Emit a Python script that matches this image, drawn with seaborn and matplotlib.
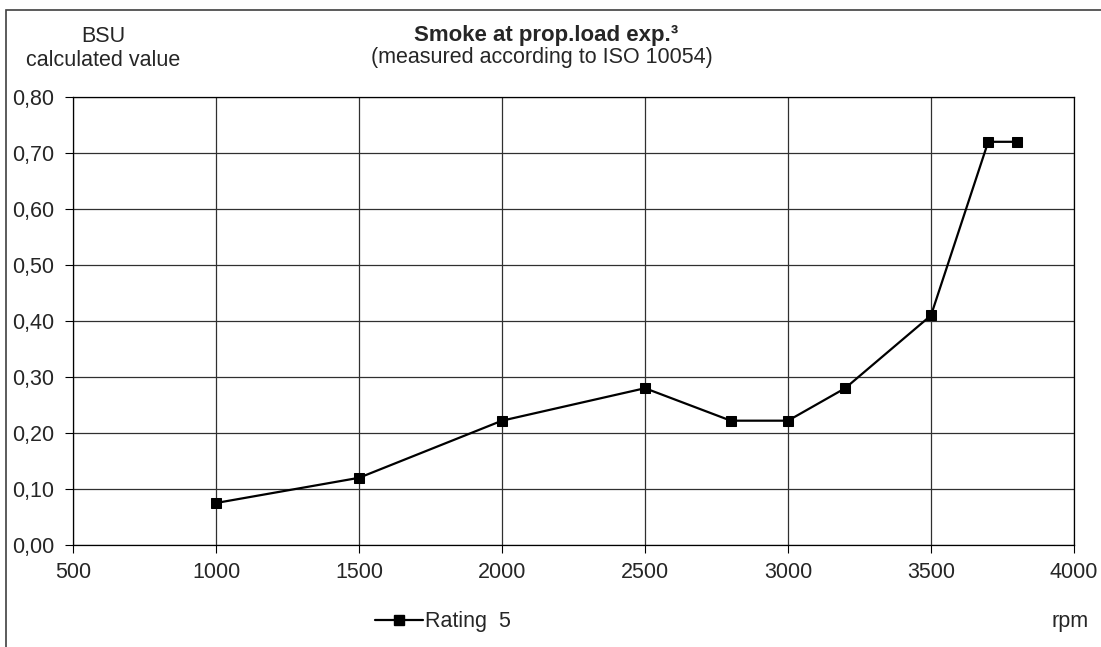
import pandas as pd
import seaborn as sns
import matplotlib.pyplot as plt
from matplotlib.patches import Rectangle

# data
rpm = [1000, 1500, 2000, 2500, 2800, 3000, 3200, 3500, 3700, 3800]
smoke = [0.075, 0.12, 0.222, 0.28, 0.222, 0.222, 0.28, 0.41, 0.72, 0.72]
series_name = "Rating  5"
x_ticks = [500, 1000, 1500, 2000, 2500, 3000, 3500, 4000]
y_ticks = [0.0, 0.1, 0.2, 0.3, 0.4, 0.5, 0.6, 0.7, 0.8]

sns.set_style("white")
plt.rcParams['font.family'] = ['Liberation Sans', 'DejaVu Sans']

df = pd.DataFrame({"rpm": rpm, "BSU": smoke, "Series": series_name})

W, H = 1101, 647
fig = plt.figure(figsize=(W / 100, H / 100), dpi=100)
ax = fig.add_axes([73 / W, 1 - 545 / H, (1074 - 73) / W, (545 - 97) / H])

sns.lineplot(
    data=df, x="rpm", y="BSU", hue="Series", palette=["black"],
    marker="s", markersize=7, markeredgecolor="black", linewidth=1.6,
    ax=ax, legend=False,
)

ax.set_xlim(500, 4000)
ax.set_ylim(0, 0.8)
ax.set_xticks(x_ticks)
ax.set_yticks(y_ticks)
ax.set_xticklabels([str(t) for t in x_ticks], fontsize=15.5)
ax.set_yticklabels([f"{t:.2f}".replace(".", ",") for t in y_ticks], fontsize=15.5)
ax.tick_params(axis="both", direction="out", length=6, width=0.8, color="black",
               bottom=True, left=True)
ax.tick_params(axis="x", pad=6)
ax.tick_params(axis="y", pad=7.5)
ax.grid(True, color="#303030", linewidth=0.9)
ax.set_axisbelow(True)
for s in ax.spines.values():
    s.set_color("black")
    s.set_linewidth(0.9)
ax.set_xlabel("")
ax.set_ylabel("")

# outer chart frame
fig.patches.append(Rectangle((6 / W, -0.05), 1.1, 1 - 10 / H + 0.05,
                             transform=fig.transFigure, fill=False,
                             edgecolor="#404040", linewidth=1.2))

# titles
fig.text(546 / W, 1 - 36 / H, "Smoke at prop.load exp.³", ha="center", va="center",
         fontsize=16, fontweight="bold")
fig.text(542 / W, 1 - 58 / H, "(measured according to ISO 10054)", ha="center",
         va="center", fontsize=15.5)
fig.text(103 / W, 1 - 36 / H, "BSU", ha="center", va="center", fontsize=15.5)
fig.text(103 / W, 1 - 61 / H, "calculated value", ha="center", va="center", fontsize=15.5)

# legend entry and unit label
fig.text(1089 / W, 1 - 622 / H, "rpm", ha="right", va="center", fontsize=15.5)
handles = [plt.Line2D([], [], color="black", marker="s", markersize=7, linewidth=1.6)]
fig.legend(handles, [series_name], loc="center", bbox_to_anchor=(443 / W, 1 - 622 / H),
           frameon=False, fontsize=15.5, handlelength=2.2, handletextpad=0.1)

fig.savefig("out.png", dpi=100)
